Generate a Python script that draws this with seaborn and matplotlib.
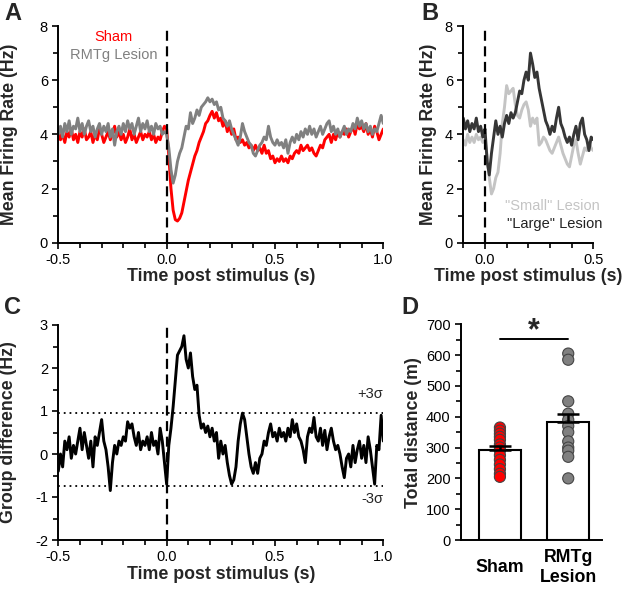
import numpy as np
import pandas as pd
import matplotlib
matplotlib.use("Agg")
import matplotlib.pyplot as plt
import seaborn as sns
from matplotlib.ticker import MultipleLocator, FormatStrFormatter

# ---------------- DATA ----------------
# Panel A: mean firing rate, 10 ms bins from -0.50 s to 1.00 s
time_a = np.linspace(-0.5, 1.0, 151)
sham_rate = [
    4.2, 3.8, 4.0, 3.7, 4.1, 3.9, 4.2, 3.8, 4.0, 3.7,
    4.1, 3.9, 4.2, 3.8, 3.9, 4.1, 3.7, 4.0, 3.8, 4.2,
    4.0, 3.7, 3.9, 4.1, 3.8, 4.0, 4.3, 3.9, 4.1, 3.8,
    4.0, 3.7, 3.9, 4.2, 3.8, 4.0, 3.7, 3.9, 4.1, 3.8,
    4.0, 3.9, 4.1, 3.8, 4.0, 3.7, 3.9, 3.8, 4.1, 4.3,
    4.2, 3.2, 2.0, 1.2, 0.85, 0.8, 0.9, 1.1, 1.5, 1.9,
    2.3, 2.6, 2.9, 3.2, 3.4, 3.7, 3.9, 4.1, 4.4, 4.5,
    4.7, 4.85, 4.6, 4.8, 4.5, 4.6, 4.3, 4.5, 4.1, 4.3,
    4.0, 4.2, 3.8, 3.9, 3.7, 3.8, 3.6, 3.7, 3.5, 3.6,
    3.4, 3.6, 3.4, 3.5, 3.3, 3.6, 3.3, 3.4, 3.1, 3.2,
    2.95, 3.1, 3.0, 3.2, 3.0, 3.1, 2.95, 3.2, 3.1, 3.3,
    3.4, 3.3, 3.6, 3.4, 3.5, 3.6, 3.4, 3.5, 3.3, 3.2,
    3.4, 3.6, 3.5, 3.8, 3.9, 4.0, 3.7, 4.0, 3.8, 4.1,
    3.9, 4.1, 4.0, 4.2, 3.9, 4.1, 4.3, 4.0, 4.4, 4.2,
    4.3, 4.1, 4.4, 4.0, 4.2, 3.9, 4.3, 4.1, 3.8, 4.0,
    4.2]
lesion_rate = [
    4.0, 4.3, 3.9, 4.4, 4.1, 4.5, 4.0, 4.3, 4.2, 4.6,
    4.1, 4.4, 4.0, 4.3, 4.5, 4.1, 4.3, 3.9, 4.2, 4.4,
    4.0, 4.3, 4.1, 4.4, 3.9, 4.2, 3.6, 4.1, 4.3, 4.0,
    4.4, 4.1, 4.5, 4.2, 4.4, 4.0, 4.3, 4.6, 4.1, 4.4,
    4.2, 4.5, 4.1, 4.3, 4.0, 4.4, 4.2, 4.3, 4.0, 4.1,
    4.0, 3.5, 2.7, 2.2, 2.5, 3.0, 3.3, 3.5, 3.9, 4.3,
    4.2, 4.8, 4.4, 4.6, 4.9, 4.7, 5.0, 5.1, 5.2, 5.35,
    5.2, 5.3, 5.1, 5.2, 4.9, 5.0, 4.6, 4.5, 4.3, 4.5,
    4.2, 4.0, 3.8, 3.6, 3.9, 4.4, 4.1, 3.9, 3.7, 3.6,
    3.3, 3.2, 3.4, 3.6, 3.7, 3.9, 3.8, 4.3, 3.9, 3.7,
    3.6, 3.8, 3.6, 3.7, 3.5, 3.8, 3.3, 3.7, 3.9, 3.7,
    4.0, 3.8, 4.1, 3.9, 4.2, 4.0, 4.3, 4.0, 4.2, 3.9,
    4.1, 4.3, 4.0, 4.2, 4.4, 4.5, 4.1, 4.3, 4.0, 4.2,
    3.9, 4.1, 4.3, 4.0, 4.2, 4.1, 4.4, 4.2, 4.6, 4.3,
    4.5, 4.2, 4.4, 4.1, 4.3, 4.0, 4.2, 4.1, 4.4, 4.7,
    4.4]

# Panel B: 10 ms bins from -0.10 s to 0.50 s
time_b = np.linspace(-0.1, 0.5, 61)
small_lesion_rate = [
    3.8, 3.6, 4.0, 3.7, 3.9, 3.7, 4.0, 3.8, 3.9, 3.7,
    3.8, 3.2, 2.4, 1.8, 2.0, 2.4, 2.6, 3.3, 4.4, 5.0,
    5.8, 5.5, 5.6, 5.7, 5.1, 4.7, 4.6, 4.9, 5.1, 5.2,
    4.9, 4.3, 4.6, 4.4, 4.6, 3.6, 3.7, 3.9, 3.8, 3.6,
    3.4, 3.3, 3.5, 3.7, 3.9, 3.6, 3.3, 3.1, 2.9, 2.8,
    3.2, 3.6, 3.8, 3.3, 2.9, 3.2, 3.5, 3.4, 3.7, 3.5,
    3.4]
large_lesion_rate = [
    4.6, 4.2, 4.5, 4.1, 4.4, 4.2, 4.6, 4.1, 4.3, 3.9,
    4.2, 3.0, 2.5, 3.3, 3.9, 4.5, 4.0, 4.3, 3.9, 4.4,
    4.7, 4.4, 4.8, 4.6, 4.8, 5.2, 5.6, 5.5, 6.0, 6.3,
    6.0, 7.0, 6.6, 6.1, 6.3, 5.7, 5.3, 4.9, 4.5, 4.3,
    4.0, 4.3, 4.1, 4.6, 5.0, 4.4, 4.2, 3.9, 3.7, 3.9,
    3.6, 4.0, 4.3, 3.8, 4.4, 4.6, 4.0, 3.8, 3.4, 3.9,
    3.8]

# Panel C: group difference, 10 ms bins from -0.50 s to 1.00 s
time_c = np.linspace(-0.5, 1.0, 151)
group_diff = [
    -0.4, 0.0, -0.3, 0.3, 0.1, 0.4, -0.1, 0.2, 0.0, 0.3,
    0.6, 0.1, 0.5, 0.2, -0.1, 0.3, -0.3, 0.4, 0.2, 0.5,
    0.8, 0.3, 0.1, -0.3, -0.85, -0.2, 0.2, 0.0, 0.3, 0.2,
    0.4, 0.3, 0.75, 0.6, 0.7, 0.4, 0.2, 0.5, 0.1, 0.3,
    0.2, 0.4, 0.1, 0.5, 0.2, 0.3, 0.0, 0.6, 0.3, -0.2,
    -0.7, 0.2, 0.6, 1.1, 1.7, 2.3, 2.4, 2.5, 2.75, 2.2,
    2.0, 2.35, 1.8, 1.5, 1.6, 0.9, 0.6, 0.7, 0.5, 0.65,
    0.4, 0.6, 0.3, 0.5, -0.1, 0.3, 0.0, 0.2, -0.2, -0.5,
    -0.7, -0.6, -0.3, 0.3, 0.7, 0.95, 0.8, 0.4, 0.0, -0.3,
    -0.45, -0.2, -0.45, -0.1, 0.0, 0.3, 0.2, 0.5, 0.7, 0.4,
    0.5, 0.3, 0.6, 0.4, 0.5, 0.3, 0.6, 0.4, 0.8, 0.5,
    0.7, 0.4, 0.3, 0.1, -0.2, 0.4, 0.6, 0.5, 0.85, 0.4,
    0.3, 0.6, 0.2, 0.55, 0.1, 0.4, 0.6, 0.3, 0.1, 0.2,
    0.0, -0.3, -0.55, -0.1, 0.0, -0.3, 0.2, -0.2, 0.1, 0.3,
    -0.1, 0.2, -0.2, 0.4, 0.1, -0.3, -0.7, 0.2, 0.1, 0.9,
    0.3]
sigma_upper = 0.95
sigma_lower = -0.75

# Panel D: total distance
groups = ["Sham", "RMTg\nLesion"]
group_means = [292, 384]
group_sems = [14, 24]
sham_points = [365, 355, 345, 335, 325, 310, 300, 290, 275, 260, 245, 230, 215, 205]
lesion_points = [605, 585, 450, 410, 390, 370, 350, 320, 300, 290, 270, 200]
sig_level = 651

# ---------------- STYLE ----------------
sns.set_theme(style="ticks")
plt.rcParams['font.family'] = ['Liberation Sans', 'DejaVu Sans']
plt.rcParams['axes.unicode_minus'] = False
plt.rcParams['axes.linewidth'] = 1.4
plt.rcParams['xtick.color'] = 'black'
plt.rcParams['ytick.color'] = 'black'

RED = "#ff0000"
GRAY = "#808080"
LIGHT = "#c4c4c4"
DARK = "#363636"
TICK_FS = 10.5
LAB_FS = 12.8
TRACE_LW = 2.1

fig = plt.figure(figsize=(6.25, 5.92), dpi=100)
W, H = 625.0, 592.0

def add_ax(x0, y0, x1, y1):
    return fig.add_axes([x0 / W, 1 - y1 / H, (x1 - x0) / W, (y1 - y0) / H])

axA = add_ax(58.3, 26, 383.3, 242.7)
axB = add_ax(463.3, 26, 593.3, 242.7)
axC = add_ax(58.3, 325, 383.3, 540)
axD = add_ax(461, 324.3, 601.7, 540)

def style_axis(ax):
    sns.despine(ax=ax)
    for s in ["left", "bottom"]:
        ax.spines[s].set_color("black")
        ax.spines[s].set_linewidth(1.4)
    ax.tick_params(which="both", direction="out", length=4, width=1.2,
                   labelsize=TICK_FS, colors="black")
    ax.tick_params(which="minor", length=3.5)

dash = (0, (4.5, 2.5))

# ---- Panel A ----
dfA = pd.DataFrame({"t": np.concatenate([time_a, time_a]),
                    "rate": np.concatenate([sham_rate, lesion_rate]),
                    "group": ["Sham"] * len(time_a) + ["RMTg Lesion"] * len(time_a)})
sns.lineplot(data=dfA, x="t", y="rate", hue="group", estimator=None,
             palette={"Sham": RED, "RMTg Lesion": GRAY},
             hue_order=["Sham", "RMTg Lesion"], linewidth=TRACE_LW, legend=False, ax=axA)
axA.axvline(0, color="black", lw=1.6, linestyle=dash, zorder=4)
axA.set_xlim(-0.5, 1.0)
axA.set_ylim(0, 8)
axA.xaxis.set_major_locator(MultipleLocator(0.5))
axA.xaxis.set_minor_locator(MultipleLocator(0.1))
axA.xaxis.set_major_formatter(FormatStrFormatter('%.1f'))
axA.yaxis.set_major_locator(MultipleLocator(2))
axA.yaxis.set_minor_locator(MultipleLocator(1))
style_axis(axA)
axA.set_xlabel("Time post stimulus (s)", fontsize=LAB_FS, fontweight="bold")
axA.set_ylabel("Mean Firing Rate (Hz)", fontsize=LAB_FS, fontweight="bold")
axA.text(0.17, 0.95, "Sham", color=RED, fontsize=TICK_FS, ha="center", va="center",
         transform=axA.transAxes)
axA.text(0.17, 0.865, "RMTg Lesion", color=GRAY, fontsize=TICK_FS, ha="center", va="center",
         transform=axA.transAxes)

# ---- Panel B ----
dfB = pd.DataFrame({"t": np.concatenate([time_b, time_b]),
                    "rate": np.concatenate([small_lesion_rate, large_lesion_rate]),
                    "group": ["small"] * len(time_b) + ["large"] * len(time_b)})
sns.lineplot(data=dfB, x="t", y="rate", hue="group", estimator=None,
             palette={"small": LIGHT, "large": DARK}, hue_order=["small", "large"],
             linewidth=TRACE_LW, legend=False, ax=axB)
axB.axvline(0, color="black", lw=1.6, linestyle=dash, zorder=4)
axB.set_xlim(-0.1, 0.5)
axB.set_ylim(0, 8)
axB.xaxis.set_major_locator(MultipleLocator(0.5))
axB.xaxis.set_minor_locator(MultipleLocator(0.1))
axB.xaxis.set_major_formatter(FormatStrFormatter('%.1f'))
axB.yaxis.set_major_locator(MultipleLocator(2))
axB.yaxis.set_minor_locator(MultipleLocator(1))
style_axis(axB)
axB.set_xlabel("Time post stimulus (s)", fontsize=LAB_FS, fontweight="bold")
axB.set_ylabel("Mean Firing Rate (Hz)", fontsize=LAB_FS, fontweight="bold")
axB.text(1.05, 0.17, "\"Small\" Lesion", color=LIGHT, fontsize=TICK_FS, ha="right",
         va="center", transform=axB.transAxes)
axB.text(1.07, 0.085, "\"Large\" Lesion", color="#222222", fontsize=TICK_FS, ha="right",
         va="center", transform=axB.transAxes)

# ---- Panel C ----
dfC = pd.DataFrame({"t": time_c, "diff": group_diff})
sns.lineplot(data=dfC, x="t", y="diff", color="black", linewidth=TRACE_LW, estimator=None, ax=axC)
axC.axvline(0, color="black", lw=1.6, linestyle=dash, zorder=4)
axC.axhline(sigma_upper, color="black", lw=1.3, linestyle=(0, (1, 2.2)))
axC.axhline(sigma_lower, color="black", lw=1.3, linestyle=(0, (1, 2.2)))
axC.set_xlim(-0.5, 1.0)
axC.set_ylim(-2, 3)
axC.xaxis.set_major_locator(MultipleLocator(0.5))
axC.xaxis.set_minor_locator(MultipleLocator(0.1))
axC.xaxis.set_major_formatter(FormatStrFormatter('%.1f'))
axC.yaxis.set_major_locator(MultipleLocator(1))
axC.yaxis.set_minor_locator(MultipleLocator(0.5))
style_axis(axC)
axC.set_xlabel("Time post stimulus (s)", fontsize=LAB_FS, fontweight="bold")
axC.set_ylabel("Group difference (Hz)", fontsize=LAB_FS, fontweight="bold")
axC.text(1.0, 1.40, "+3σ", fontsize=TICK_FS, ha="right", va="center")
axC.text(1.0, -1.05, "-3σ", fontsize=TICK_FS, ha="right", va="center")

# ---- Panel D ----
dfD = pd.DataFrame({"group": groups, "mean": group_means})
sns.barplot(data=dfD, x="group", y="mean", order=groups, color="white",
            edgecolor="black", linewidth=1.5, width=0.61, errorbar=None, ax=axD)
axD.errorbar([0, 1], group_means, yerr=[[0, 0], group_sems], fmt="none",
             ecolor="black", elinewidth=1.8, capsize=8, capthick=1.8, zorder=5)
dfP = pd.DataFrame({"group": [groups[0]] * len(sham_points) + [groups[1]] * len(lesion_points),
                    "dist": sham_points + lesion_points})
sns.stripplot(data=dfP, x="group", y="dist", order=groups, hue="group",
              palette={groups[0]: RED, groups[1]: GRAY}, jitter=False, size=8,
              linewidth=0.8, edgecolor="#444444", legend=False, zorder=4, ax=axD)
axD.plot([0, 1], [sig_level, sig_level], color="black", lw=1.4)
axD.text(0.5, sig_level + 25, "*", fontsize=22, fontweight="bold", ha="center", va="center")
axD.set_xlim(-0.57, 1.49)
axD.set_ylim(0, 700)
axD.yaxis.set_major_locator(MultipleLocator(100))
axD.yaxis.set_minor_locator(MultipleLocator(50))
style_axis(axD)
axD.tick_params(axis="x", length=0, pad=20)
for lbl in axD.get_xticklabels():
    lbl.set_fontweight("bold")
    lbl.set_fontsize(LAB_FS)
    lbl.set_va("center")
axD.set_xlabel("")
axD.set_ylabel("Total distance (m)", fontsize=LAB_FS, fontweight="bold")

# label positions
axA.yaxis.set_label_coords(-0.125, 0.5)
axC.yaxis.set_label_coords(-0.127, 0.5)
axB.yaxis.set_label_coords(-0.2, 0.5)
axD.yaxis.set_label_coords(-0.28, 0.5)
axA.xaxis.set_label_coords(0.5, -0.118)
axB.xaxis.set_label_coords(0.5, -0.118)
axC.xaxis.set_label_coords(0.5, -0.12)

# panel letters
for x, y, s in [(4, 2, "A"), (421, 2, "B"), (4, 296, "C"), (401, 296, "D")]:
    fig.text(x / W, 1 - y / H, s, fontsize=17, fontweight="bold", ha="left", va="top")

fig.savefig("out.png", dpi=100)
